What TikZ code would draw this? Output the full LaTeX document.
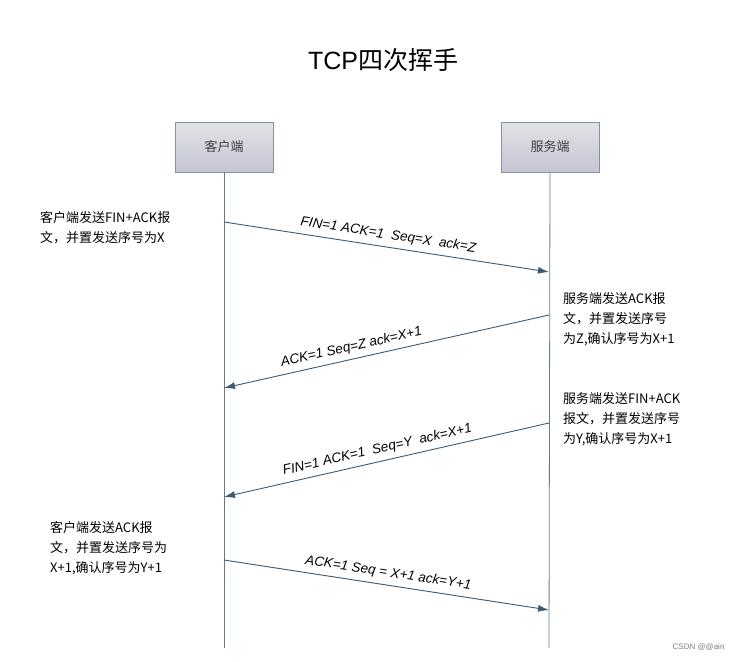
\documentclass[tikz,border=0pt]{standalone}
\usepackage{fontspec}
\setmainfont{Liberation Sans}
\newfontfamily\cjk{Noto Sans CJK SC}
\usetikzlibrary{arrows.meta}
\definecolor{ln}{HTML}{3D5A73}
\definecolor{bx}{HTML}{7F94A8}
\begin{document}
\begin{tikzpicture}[x=1pt,y=-1pt,
  actor/.style={draw=bx,top color=white!15!BoxT,bottom color=BoxB,minimum width=98pt,minimum height=50pt,font=\cjk\fontsize{13}{15}\selectfont,text=black!75},
  life/.style={draw=ln!80,line width=0.8pt},
  msg/.style={draw=ln,line width=0.9pt,-{Latex[length=11pt,width=7pt]}},
  lab/.style={font=\itshape\fontsize{13.5}{15}\selectfont,sloped,above,inner sep=5pt},
  note/.style={font=\cjk\fontsize{13}{20}\selectfont,align=left,anchor=north west,inner sep=0pt}]
\colorlet{BoxT}{blue!5!gray!25}
\colorlet{BoxB}{blue!15!gray!40}
\useasboundingbox[fill=white] (0,0) rectangle (733,661);
\node (title) at (383,60) {\fontsize{25}{28}\selectfont TCP{\cjk 四次挥手}};
\node[actor] (c) at (224,147) {客户端};
\node[actor] (s) at (550,147) {服务端};
\coordinate (cb) at (224,648);
\coordinate (sb) at (549,648);
\draw[life] (c.south) -- (cb);
\draw[life] (s.south) -- (sb);
\coordinate (c1) at (224,222); \coordinate (s1) at (549,272);
\coordinate (s2) at (549,315); \coordinate (c2) at (224,388);
\coordinate (s3) at (549,423); \coordinate (c3) at (224,497);
\coordinate (c4) at (224,560); \coordinate (s4) at (549,610);
\draw[msg] (c1) -- node[lab,pos=0.5]{FIN=1 ACK=1\ \ Seq=X\ \ ack=Z} (s1);
\draw[msg] (s2) -- node[lab,pos=0.6]{ACK=1 Seq=Z ack=X+1} (c2);
\draw[msg] (s3) -- node[lab,pos=0.52]{FIN=1 ACK=1\ \ Seq=Y\ \ ack=X+1} (c3);
\draw[msg] (c4) -- node[lab,pos=0.5]{ACK=1 Seq = X+1 ack=Y+1} (s4);
\node[note] (n1) at (40,211) {客户端发送FIN+ACK报\\文，并置发送序号为X};
\node[note] (n2) at (563,292) {服务端发送ACK报\\文，并置发送序号\\为Z,确认序号为X+1};
\node[note] (n3) at (563,392) {服务端发送FIN+ACK\\报文，并置发送序号\\为Y,确认序号为X+1};
\node[note] (n4) at (50,521) {客户端发送ACK报\\文，并置发送序号为\\X+1,确认序号为Y+1};
\node[font=\fontsize{8}{9}\selectfont,text=gray,anchor=south east] (wm) at (728,654) {CSDN @@ain};
\end{tikzpicture}
\end{document}
